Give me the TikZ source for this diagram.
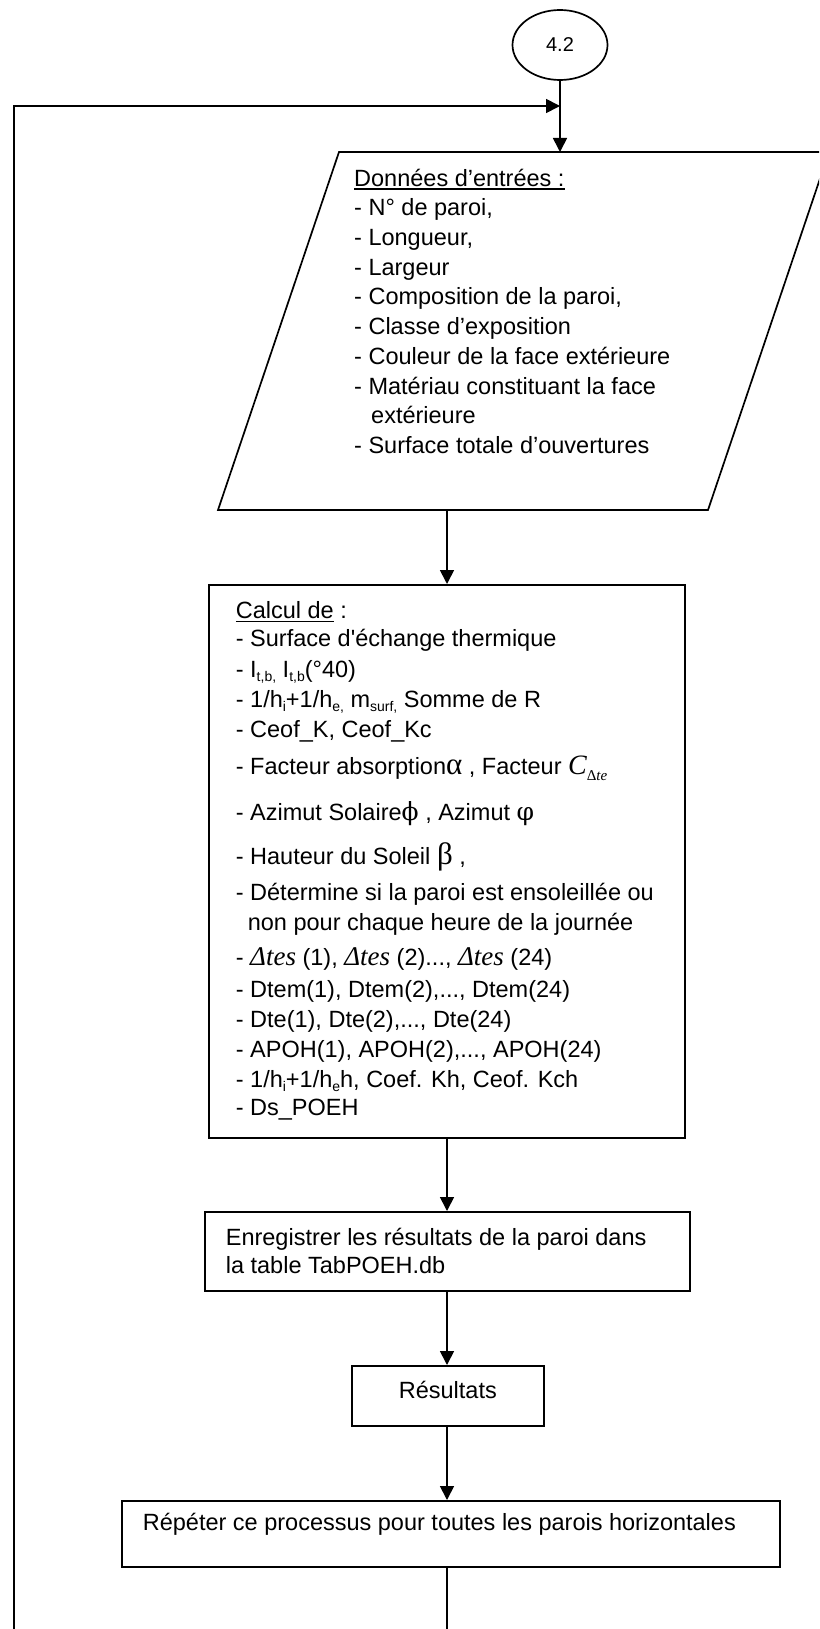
\documentclass[tikz,border=0pt]{standalone}
\usepackage{fontspec}
\setmainfont{Liberation Sans}
\newfontfamily\tnr{Liberation Serif}
\newfontfamily\dvs{DejaVu Serif}
\usetikzlibrary{shapes.geometric,arrows.meta}

\newcommand{\fsz}[2]{\fontsize{#1}{#2}\selectfont}
\newcommand{\myul}[1]{\setbox0\hbox{#1}\rlap{\rule[-3.5pt]{\wd0}{1.5pt}}\box0\relax}
\newcommand{\sbs}[1]{\raisebox{-4pt}{\fsz{14}{14}#1}}
\newcommand{\dtes}{{\tnr\itshape\fsz{27}{27}Δtes}}

\tikzset{
  every node/.style={font=\fsz{23.5}{30}},
  box/.style={draw, line width=1.7pt, inner sep=0pt, rectangle},
  conn/.style={line width=1.7pt},
  arr/.style={conn, -{Triangle[length=14pt,width=14pt]}},
}

\begin{document}
\begin{tikzpicture}[x=1pt,y=-1pt]
\useasboundingbox (0,0) rectangle (819,1629);
\clip (0,0) rectangle (819,1629);

% start connector
\node[draw, ellipse, line width=1.7pt, minimum width=95pt, minimum height=70pt,
      inner sep=0pt, font=\fsz{20}{20}] (c42) at (560,45) {4.2};

% input parallelogram
\coordinate (pTL) at (339,152);
\coordinate (pTR) at (829,152);
\coordinate (pBR) at (708,510);
\coordinate (pBL) at (218,510);
\coordinate (pin-top) at (560,152);
\coordinate (pin-bot) at (447,510);
\draw[conn] (pTL) -- (pTR) -- (pBR) -- (pBL) -- cycle;
\node[anchor=north west, inner sep=0pt] (din) at (354,152) {\parbox[t]{420pt}{%
\baselineskip=29.7pt \lineskiplimit=-100pt
\rule{0pt}{34pt}\myul{Données d’entrées :}\\
- N° de paroi,\\
- Longueur,\\
- Largeur\\
- Composition de la paroi,\\
- Classe d’exposition\\
- Couleur de la face extérieure\\
- Matériau constituant la face\\
\hspace*{17pt}extérieure\\
- Surface totale d’ouvertures}};

% calculation box
\node[box, anchor=north west] (b1) at (208,584) {\parbox[t][553pt][t]{476pt}{%
\leftskip=27pt \baselineskip=30pt \lineskiplimit=-100pt
\rule{0pt}{34pt}\myul{Calcul de} :\\[-2pt]
- Surface d\textquotesingle échange thermique\\[1pt]
- I\sbs{t,b,} I\sbs{t,b}(°40)\\
- 1/h\sbs{i}+1/h\sbs{e,} m\sbs{surf,} Somme de R\\
- Ceof\_K, Ceof\_Kc\\[7pt]
- Facteur absorption{\tnr\fsz{31}{31}α} , Facteur {\tnr\itshape\fsz{28}{28}C}\raisebox{-6pt}{\tnr\fsz{15}{15}Δ\itshape te}\\[16pt]
- Azimut Solaire{\dvs\fsz{25}{25}ϕ} , Azimut {\dvs\fsz{25}{25}φ}\\[14pt]
- Hauteur du Soleil {\tnr\fsz{31}{31}β} ,\\[6pt]
- Détermine si la paroi est ensoleillée ou\\
\hspace*{12pt}non pour chaque heure de la journée\\[5pt]
- \dtes{} (1), \dtes{} (2)..., \dtes{} (24)\\[2pt]
- Dtem(1), Dtem(2),..., Dtem(24)\\
- Dte(1), Dte(2),..., Dte(24)\\
- APOH(1), APOH(2),..., APOH(24)\\
- 1/h\sbs{i}+1/h\sbs{e}h, Coef. Kh, Ceof. Kch\\[-2pt]
- Ds\_POEH}};

% save box
\node[box, anchor=north west] (b2) at (204,1211) {\parbox[t][79pt][t]{485pt}{%
\leftskip=21pt \baselineskip=28pt \lineskiplimit=-100pt
\rule{0pt}{34pt}Enregistrer les résultats de la paroi dans\\
la table TabPOEH.db}};

% results box
\node[box, anchor=north west] (b3) at (351,1365) {\parbox[t][60pt][t]{192pt}{%
\centering\rule{0pt}{33pt}Résultats}};

% repeat box
\node[box, anchor=north west] (b4) at (121,1500) {\parbox[t][66pt][t]{658pt}{%
\leftskip=21pt \rule{0pt}{30pt}Répéter ce processus pour toutes les parois horizontales}};

% connectors
\coordinate (loopbot) at (14,1629);
\coordinate (loopcorner) at (14,106);
\coordinate (loopjoin) at (560,106);
\coordinate (endbot) at (447,1629);
\draw[arr] (loopbot) -- (loopcorner) -- (loopjoin);
\draw[arr] (c42.south) -- (pin-top);
\draw[arr] (pin-bot) -- (pin-bot |- b1.north);
\draw[arr] (b1.south -| pin-bot) -- (pin-bot |- b2.north);
\draw[arr] (b2.south -| pin-bot) -- (pin-bot |- b3.north);
\draw[arr] (b3.south -| pin-bot) -- (pin-bot |- b4.north);
\draw[conn] (b4.south -| endbot) -- (endbot);
\end{tikzpicture}
\end{document}
